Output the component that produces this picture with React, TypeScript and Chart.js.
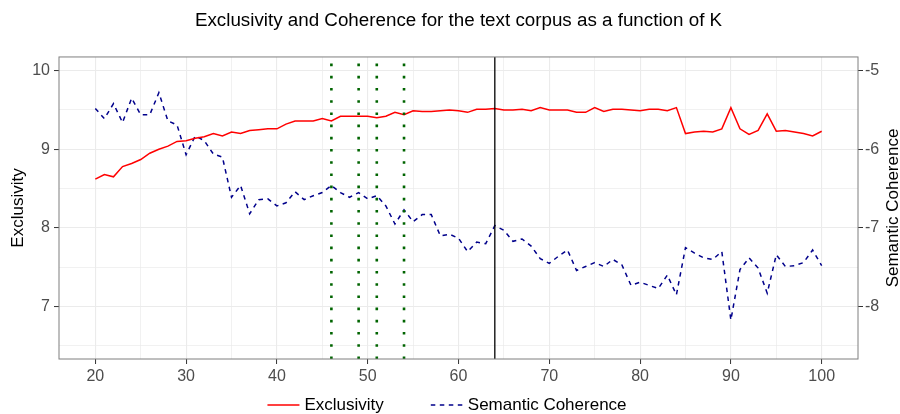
import React, { useEffect, useRef } from 'react';
import { Chart, registerables } from 'chart.js';

Chart.register(...registerables);

const FONT = '"Liberation Sans", Arial, Helvetica, sans-serif';

const titleText = 'Exclusivity and Coherence for the text corpus as a function of K';
const leftAxisTitle = 'Exclusivity';
const rightAxisTitle = 'Semantic Coherence';

const kValues = [
  20, 21, 22, 23, 24, 25, 26, 27, 28, 29,
  30, 31, 32, 33, 34, 35, 36, 37, 38, 39,
  40, 41, 42, 43, 44, 45, 46, 47, 48, 49,
  50, 51, 52, 53, 54, 55, 56, 57, 58, 59,
  60, 61, 62, 63, 64, 65, 66, 67, 68, 69,
  70, 71, 72, 73, 74, 75, 76, 77, 78, 79,
  80, 81, 82, 83, 84, 85, 86, 87, 88, 89,
  90, 91, 92, 93, 94, 95, 96, 97, 98, 99,
  100,
];

const exclusivity = [
  8.62, 8.68, 8.65, 8.78, 8.82, 8.87, 8.95, 9.00, 9.04, 9.10,
  9.11, 9.14, 9.16, 9.20, 9.17, 9.22, 9.20, 9.24, 9.25, 9.26,
  9.26, 9.32, 9.36, 9.36, 9.36, 9.39, 9.36, 9.42, 9.42, 9.42,
  9.42, 9.40, 9.42, 9.47, 9.44, 9.49, 9.48, 9.48, 9.49, 9.50,
  9.49, 9.47, 9.51, 9.51, 9.52, 9.50, 9.50, 9.51, 9.49, 9.53,
  9.50, 9.50, 9.50, 9.47, 9.47, 9.53, 9.48, 9.51, 9.51, 9.50,
  9.49, 9.51, 9.51, 9.49, 9.53, 9.20, 9.22, 9.23, 9.22, 9.26,
  9.53, 9.26, 9.19, 9.24, 9.45, 9.23, 9.24, 9.22, 9.20, 9.17,
  9.23,
];

const coherence = [
  -5.48, -5.61, -5.42, -5.66, -5.35, -5.56, -5.56, -5.28, -5.64, -5.69,
  -6.07, -5.83, -5.89, -6.06, -6.10, -6.61, -6.46, -6.82, -6.64, -6.63,
  -6.72, -6.68, -6.54, -6.64, -6.59, -6.55, -6.46, -6.55, -6.61, -6.55,
  -6.63, -6.59, -6.72, -6.95, -6.77, -6.92, -6.83, -6.83, -7.10, -7.08,
  -7.13, -7.30, -7.18, -7.20, -6.97, -7.03, -7.17, -7.14, -7.23, -7.39,
  -7.45, -7.36, -7.28, -7.54, -7.49, -7.44, -7.49, -7.40, -7.47, -7.73,
  -7.69, -7.73, -7.77, -7.60, -7.85, -7.25, -7.32, -7.38, -7.40, -7.30,
  -8.17, -7.53, -7.38, -7.51, -7.83, -7.34, -7.49, -7.48, -7.44, -7.28,
  -7.48,
];

const xTickValues = [20, 25, 30, 35, 40, 45, 50, 55, 60, 65, 70, 75, 80, 85, 90, 95, 100];
const xLabelStep = 10;
const leftTickValues = [6.5, 7, 7.5, 8, 8.5, 9, 9.5, 10];
const rightTickValues = [-8.5, -8, -7.5, -7, -6.5, -6, -5.5, -5];

const xRange = [16, 104];
const leftRange = [6.334, 10.174];
const rightRange = [-8.666, -4.826];

const candidateKs = [46, 49, 51, 54];
const chosenKs = [64];

const isInt = (v: number) => Math.abs(v - Math.round(v)) < 1e-6;

const vlinePlugin = {
  id: 'vlines',
  afterDatasetsDraw(chart: any) {
    const { ctx, chartArea, scales } = chart;
    const xs = scales.x;
    ctx.save();
    ctx.beginPath();
    ctx.rect(chartArea.left, chartArea.top, chartArea.right - chartArea.left, chartArea.bottom - chartArea.top);
    ctx.clip();
    ctx.strokeStyle = '#006400';
    ctx.lineWidth = 2.6;
    ctx.lineCap = 'butt';
    ctx.setLineDash([2.6, 9.6]);
    candidateKs.forEach((k) => {
      const px = xs.getPixelForValue(k);
      ctx.beginPath();
      ctx.moveTo(px, chartArea.bottom);
      ctx.lineTo(px, chartArea.top);
      ctx.stroke();
    });
    ctx.setLineDash([]);
    ctx.strokeStyle = '#000000';
    ctx.lineWidth = 1.3;
    chosenKs.forEach((k) => {
      const px = xs.getPixelForValue(k);
      ctx.beginPath();
      ctx.moveTo(px, chartArea.bottom);
      ctx.lineTo(px, chartArea.top);
      ctx.stroke();
    });
    ctx.restore();

    ctx.save();
    ctx.strokeStyle = '#7F7F7F';
    ctx.lineWidth = 1;
    ctx.strokeRect(chartArea.left, chartArea.top, chartArea.right - chartArea.left, chartArea.bottom - chartArea.top);
    ctx.restore();
  },
};

const sideTitlePlugin = {
  id: 'sideTitle',
  afterDraw(chart: any) {
    const { ctx, chartArea } = chart;
    ctx.save();
    ctx.translate(893, (chartArea.top + chartArea.bottom) / 2);
    ctx.rotate(-Math.PI / 2);
    ctx.font = `17px ${FONT}`;
    ctx.fillStyle = '#000000';
    ctx.textAlign = 'center';
    ctx.textBaseline = 'middle';
    ctx.fillText(rightAxisTitle, 0, 0);
    ctx.restore();
  },
};

const legendPlugin = {
  id: 'bottomLegend',
  afterDraw(chart: any) {
    const { ctx } = chart;
    const items = chart.data.datasets;
    const sampleW = 32;
    const sampleGap = 5;
    const itemGap = 47;
    ctx.save();
    ctx.font = `17px ${FONT}`;
    const widths = items.map((d: any) => ctx.measureText(d.label).width);
    let total = 0;
    widths.forEach((w: number, i: number) => {
      total += sampleW + sampleGap + w + (i < widths.length - 1 ? itemGap : 0);
    });
    let x = (chart.width - total) / 2 - 3;
    const y = 405;
    items.forEach((d: any, i: number) => {
      ctx.beginPath();
      ctx.strokeStyle = d.borderColor;
      ctx.lineWidth = d.borderWidth;
      ctx.setLineDash(d.borderDash || []);
      ctx.moveTo(x, y);
      ctx.lineTo(x + sampleW, y);
      ctx.stroke();
      ctx.setLineDash([]);
      ctx.fillStyle = '#000000';
      ctx.textAlign = 'left';
      ctx.textBaseline = 'middle';
      ctx.fillText(d.label, x + sampleW + sampleGap, y);
      x += sampleW + sampleGap + widths[i] + itemGap;
    });
    ctx.restore();
  },
};

export default function App() {
  const canvasRef = useRef<HTMLCanvasElement | null>(null);

  useEffect(() => {
    if (!canvasRef.current) return;
    const tickFont = { family: FONT, size: 16 };
    const chart = new Chart(canvasRef.current, {
      type: 'line',
      data: {
        datasets: [
          {
            label: 'Exclusivity',
            data: kValues.map((k, i) => ({ x: k, y: exclusivity[i] })),
            borderColor: '#FF0000',
            backgroundColor: '#FF0000',
            borderWidth: 1.5,
            yAxisID: 'y',
            pointRadius: 0,
            tension: 0,
          },
          {
            label: 'Semantic Coherence',
            data: kValues.map((k, i) => ({ x: k, y: coherence[i] })),
            borderColor: '#00008B',
            backgroundColor: '#00008B',
            borderWidth: 1.5,
            borderDash: [4.5, 4.5],
            yAxisID: 'y1',
            pointRadius: 0,
            tension: 0,
          },
        ],
      },
      options: {
        responsive: false,
        animation: false,
        events: [],
        layout: { padding: { left: 0, right: 0, top: 0, bottom: 25 } },
        plugins: {
          legend: { display: false },
          tooltip: { enabled: false },
          title: {
            display: true,
            fullSize: false,
            text: titleText,
            color: '#000000',
            font: { family: FONT, size: 18.8, weight: 'normal' },
            padding: { top: 9.5, bottom: 24.9 },
          },
        },
        scales: {
          x: {
            type: 'linear',
            min: xRange[0],
            max: xRange[1],
            afterBuildTicks: (s: any) => {
              s.ticks = xTickValues.map((v) => ({ value: v }));
            },
            afterFit: (s: any) => {
              s.height = 30;
            },
            ticks: {
              autoSkip: false,
              maxRotation: 0,
              color: '#4D4D4D',
              font: tickFont,
              padding: 3,
              callback: (v: any) => (Number(v) % xLabelStep === 0 ? String(v) : ''),
            },
            grid: {
              color: '#EBEBEB',
              lineWidth: (c: any) => (c.tick && c.tick.value % xLabelStep === 0 ? 1.1 : 0.7),
              tickLength: 5,
              tickColor: (c: any) => (c.tick && c.tick.value % xLabelStep === 0 ? '#333333' : 'rgba(0,0,0,0)'),
              tickWidth: 1,
            },
            border: { display: false },
          },
          y: {
            type: 'linear',
            position: 'left',
            min: leftRange[0],
            max: leftRange[1],
            afterBuildTicks: (s: any) => {
              s.ticks = leftTickValues.map((v) => ({ value: v }));
            },
            afterFit: (s: any) => {
              s.width = 59;
            },
            title: {
              display: true,
              text: leftAxisTitle,
              color: '#000000',
              font: { family: FONT, size: 17 },
              padding: { top: 8, bottom: 0 },
            },
            ticks: {
              autoSkip: false,
              color: '#4D4D4D',
              font: tickFont,
              padding: 4,
              callback: (v: any) => (isInt(Number(v)) ? String(v) : ''),
            },
            grid: {
              color: '#EBEBEB',
              lineWidth: (c: any) => (c.tick && isInt(c.tick.value) ? 1.1 : 0.7),
              tickLength: 5,
              tickColor: (c: any) => (c.tick && isInt(c.tick.value) ? '#333333' : 'rgba(0,0,0,0)'),
              tickWidth: 1,
            },
            border: { display: false },
          },
          y1: {
            type: 'linear',
            position: 'right',
            min: rightRange[0],
            max: rightRange[1],
            afterBuildTicks: (s: any) => {
              s.ticks = rightTickValues.map((v) => ({ value: v }));
            },
            afterFit: (s: any) => {
              s.width = 42;
            },
            ticks: {
              autoSkip: false,
              color: '#4D4D4D',
              font: tickFont,
              padding: 2,
              callback: (v: any) => (isInt(Number(v)) ? String(v) : ''),
            },
            grid: {
              drawOnChartArea: false,
              tickLength: 5,
              tickColor: (c: any) => (c.tick && isInt(c.tick.value) ? '#333333' : 'rgba(0,0,0,0)'),
              tickWidth: 1,
            },
            border: { display: false },
          },
        },
      } as any,
      plugins: [vlinePlugin, sideTitlePlugin, legendPlugin],
    });
    return () => chart.destroy();
  }, []);

  return (
    <div style={{ position: 'fixed', left: 0, top: 0, width: 900, height: 414, background: '#ffffff' }}>
      <canvas ref={canvasRef} width={900} height={414} />
    </div>
  );
}
